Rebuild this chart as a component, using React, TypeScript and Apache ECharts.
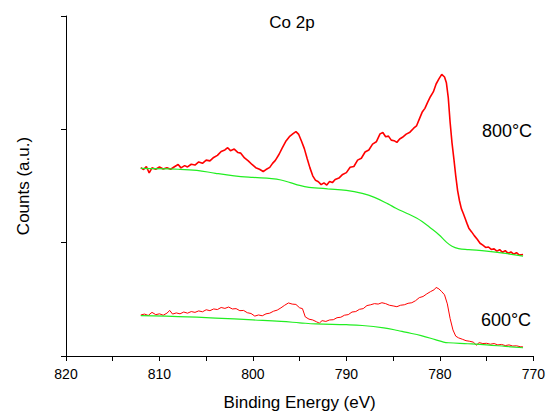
import React, { useEffect, useRef } from 'react';
import * as echarts from 'echarts';

const xTicks = [820, 810, 800, 790, 780, 770];

const red800: [number, number][] = [
[812.0,1.662],[811.7,1.645],[811.4,1.672],[811.1,1.615],[810.8,1.660],[810.4,1.648],[810.0,1.668],[809.6,1.650],[809.2,1.662],[808.8,1.648],[808.4,1.670],[808.0,1.690],[807.7,1.660],[807.3,1.680],[807.0,1.668],[806.6,1.692],[806.2,1.685],[805.8,1.712],[805.4,1.700],[805.0,1.728],[804.6,1.722],[804.2,1.752],[803.8,1.770],[803.4,1.805],[803.0,1.818],[802.7,1.838],[802.4,1.812],[802.0,1.826],[801.6,1.795],[801.3,1.790],[800.9,1.748],[800.5,1.722],[800.1,1.690],[799.7,1.662],[799.3,1.648],[798.9,1.628],[798.6,1.645],[798.2,1.664],[797.9,1.700],[797.6,1.726],[797.2,1.780],[796.9,1.830],[796.5,1.892],[796.1,1.935],[795.7,1.962],[795.4,1.980],[795.1,1.955],[794.8,1.895],[794.5,1.830],[794.2,1.742],[793.9,1.660],[793.6,1.590],[793.3,1.550],[793.0,1.538],[792.7,1.512],[792.4,1.528],[792.1,1.508],[791.8,1.540],[791.5,1.530],[791.2,1.558],[790.8,1.570],[790.4,1.602],[790.0,1.618],[789.6,1.665],[789.2,1.672],[788.8,1.728],[788.4,1.745],[788.0,1.800],[787.6,1.818],[787.2,1.870],[786.8,1.890],[786.4,1.960],[786.1,1.972],[785.8,1.935],[785.5,1.940],[785.2,1.905],[784.9,1.900],[784.6,1.885],[784.3,1.915],[784.0,1.930],[783.6,1.958],[783.2,1.975],[782.8,2.010],[782.5,2.030],[782.2,2.090],[781.9,2.150],[781.6,2.185],[781.3,2.240],[781.0,2.290],[780.7,2.330],[780.4,2.400],[780.1,2.445],[779.8,2.485],[779.5,2.462],[779.3,2.410],[779.1,2.280],[778.9,2.060],[778.7,1.880],[778.5,1.740],[778.3,1.590],[778.1,1.460],[777.9,1.370],[777.7,1.300],[777.5,1.260],[777.3,1.215],[777.1,1.170],[776.9,1.128],[776.6,1.095],[776.3,1.060],[776.0,1.030],[775.7,0.995],[775.4,0.978],[775.1,0.958],[774.8,0.962],[774.5,0.940],[774.2,0.945],[773.9,0.925],[773.6,0.938],[773.3,0.915],[773.0,0.930],[772.7,0.905],[772.4,0.918],[772.1,0.898],[771.8,0.912],[771.5,0.890],[771.1,0.896]
];

const green800: [number, number][] = [
[812,1.655],[808,1.648],[806,1.638],[804,1.612],[802,1.590],[800,1.576],[798,1.565],[797,1.553],[796,1.530],[795,1.505],[794,1.488],[793,1.482],[792,1.475],[790,1.462],[788.3,1.435],[787,1.400],[785.5,1.340],[784.7,1.304],[783.5,1.258],[782.5,1.218],[781.9,1.187],[781,1.130],[780.1,1.070],[779.3,1.005],[778.7,0.968],[778,0.948],[776.9,0.939],[775,0.925],[773,0.905],[771.1,0.882]
];

const red600: [number, number][] = [
[812.0,0.362],[811.6,0.370],[811.2,0.358],[810.8,0.385],[810.4,0.365],[810.0,0.372],[809.6,0.360],[809.2,0.378],[808.9,0.402],[808.6,0.370],[808.2,0.380],[807.8,0.372],[807.4,0.388],[807.0,0.378],[806.6,0.392],[806.2,0.385],[805.8,0.398],[805.4,0.390],[805.0,0.408],[804.6,0.400],[804.2,0.415],[803.8,0.410],[803.4,0.428],[803.0,0.420],[802.6,0.432],[802.2,0.415],[801.8,0.418],[801.4,0.400],[801.0,0.402],[800.6,0.382],[800.2,0.375],[799.8,0.352],[799.4,0.362],[799.0,0.355],[798.6,0.372],[798.2,0.378],[797.8,0.395],[797.4,0.405],[797.0,0.425],[796.6,0.448],[796.2,0.468],[795.8,0.458],[795.4,0.455],[795.0,0.425],[794.7,0.418],[794.4,0.345],[794.0,0.325],[793.6,0.318],[793.2,0.302],[792.9,0.290],[792.6,0.312],[792.2,0.305],[791.8,0.318],[791.4,0.320],[791.0,0.338],[790.6,0.342],[790.2,0.360],[789.8,0.365],[789.4,0.388],[789.0,0.392],[788.6,0.412],[788.2,0.418],[787.8,0.445],[787.4,0.452],[787.0,0.462],[786.6,0.458],[786.2,0.470],[785.8,0.462],[785.4,0.448],[785.0,0.442],[784.6,0.435],[784.2,0.448],[783.8,0.452],[783.4,0.465],[783.0,0.470],[782.6,0.488],[782.2,0.515],[781.8,0.525],[781.4,0.548],[781.0,0.568],[780.6,0.585],[780.4,0.605],[780.1,0.592],[779.8,0.568],[779.5,0.540],[779.2,0.460],[778.9,0.330],[778.6,0.230],[778.3,0.175],[778.0,0.160],[777.6,0.148],[777.2,0.135],[776.8,0.130],[776.4,0.122],[776.1,0.095],[775.8,0.118],[775.4,0.110],[775.0,0.112],[774.6,0.104],[774.2,0.110],[773.8,0.098],[773.4,0.102],[773.0,0.092],[772.6,0.098],[772.2,0.088],[771.8,0.090],[771.4,0.082],[771.1,0.080]
];

const green600: [number, number][] = [
[812,0.356],[808,0.348],[804,0.335],[800,0.318],[797,0.305],[795,0.293],[793.3,0.283],[790,0.276],[788.3,0.269],[786,0.248],[784.5,0.225],[783.7,0.210],[782,0.180],[780.5,0.145],[779.6,0.123],[779.06,0.117],[777,0.108],[775,0.098],[773,0.085],[771.1,0.073]
];

const FONT = "'Liberation Sans', Arial, sans-serif";

export default function App() {
  const ref = useRef<HTMLDivElement>(null);
  useEffect(() => {
    if (!ref.current) return;
    const chart = echarts.init(ref.current, null, { renderer: 'svg' });
    const red = '#ff0000';
    const green = '#22ee22';
    chart.setOption({
      animation: false,
      backgroundColor: '#ffffff',
      textStyle: { fontFamily: FONT },
      grid: { left: 66, right: 13, top: 16, bottom: 57 },
      xAxis: {
        type: 'value',
        min: 770,
        max: 820,
        interval: 10,
        inverse: true,
        name: 'Binding Energy (eV)',
        nameLocation: 'middle',
        nameGap: 38,
        nameTextStyle: { fontSize: 17, color: '#000', fontFamily: FONT },
        axisLine: { show: true, lineStyle: { color: '#000', width: 1 } },
        axisTick: { show: true, inside: false, length: 5, lineStyle: { color: '#000' } },
        minorTick: { show: true, splitNumber: 2, length: 5, lineStyle: { color: '#000' } },
        axisLabel: { fontSize: 14, color: '#000', margin: 11, fontFamily: FONT,
          formatter: (v: number) => (xTicks.includes(v) ? String(v) : '') },
        splitLine: { show: false },
      },
      yAxis: {
        type: 'value',
        min: 0,
        max: 3,
        interval: 1,
        name: 'Counts (a.u.)',
        nameLocation: 'middle',
        nameRotate: 90,
        nameGap: 34,
        nameTextStyle: { fontSize: 17, color: '#000', fontFamily: FONT },
        axisLine: { show: true, lineStyle: { color: '#000', width: 1 } },
        axisTick: { show: true, inside: false, length: 5, lineStyle: { color: '#000' } },
        axisLabel: { show: false },
        splitLine: { show: false },
      },
      graphic: [
        { type: 'text', x: 292, y: 22, style: { text: 'Co 2p', fontSize: 17, fill: '#000', font: `17px ${FONT}`, textAlign: 'center', textVerticalAlign: 'middle' } },
        { type: 'text', x: 507, y: 131, style: { text: '800°C', fontSize: 18, fill: '#000', font: `18px ${FONT}`, textAlign: 'center', textVerticalAlign: 'middle' } },
        { type: 'text', x: 506, y: 320, style: { text: '600°C', fontSize: 18, fill: '#000', font: `18px ${FONT}`, textAlign: 'center', textVerticalAlign: 'middle' } },
      ],
      series: [
        { name: 'red800', type: 'line', data: red800, showSymbol: false, lineStyle: { color: red, width: 1.6 }, z: 2 },
        { name: 'red600', type: 'line', data: red600, showSymbol: false, lineStyle: { color: red, width: 1 }, z: 2 },
        { name: 'green800', type: 'line', data: green800, showSymbol: false, smooth: 0.4, lineStyle: { color: green, width: 1.2 }, z: 3 },
        { name: 'green600', type: 'line', data: green600, showSymbol: false, smooth: 0.4, lineStyle: { color: green, width: 1.2 }, z: 3 },
      ],
    });
    return () => chart.dispose();
  }, []);
  return <div ref={ref} style={{ position: 'fixed', left: 0, top: 0, width: 548, height: 416 }} />;
}
